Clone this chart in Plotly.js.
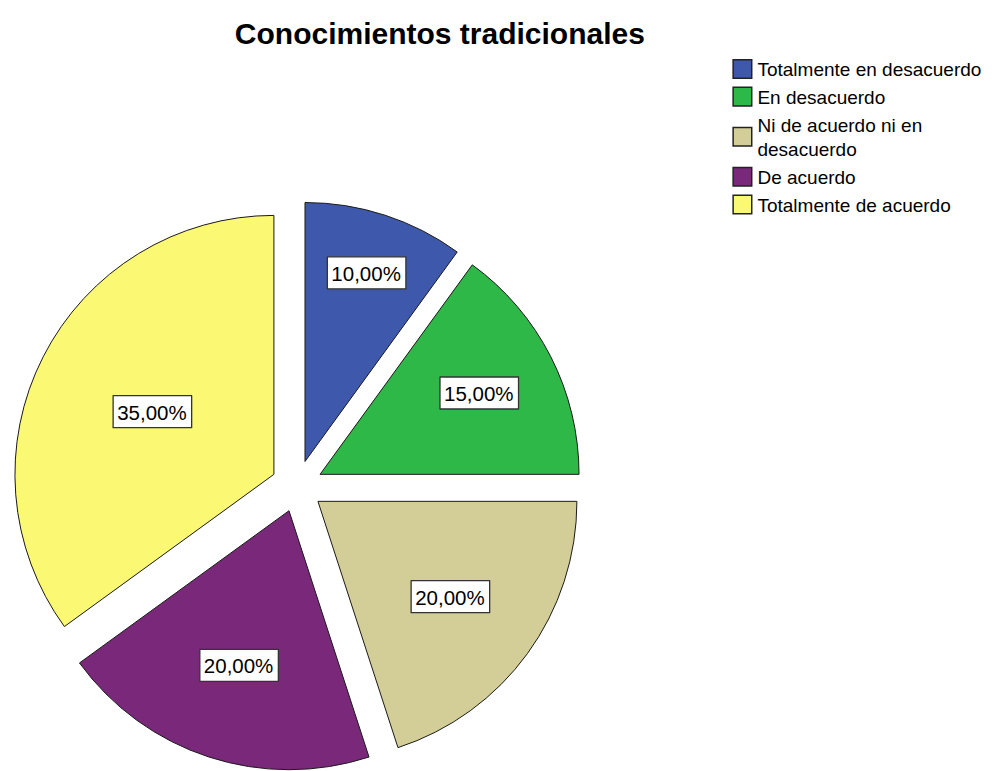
<!DOCTYPE html>
<html>
<head>
<meta charset="utf-8">
<script src="https://cdn.plot.ly/plotly-3.0.1.min.js"></script>
<style>
  html, body { margin: 0; padding: 0; background: #ffffff; overflow: hidden; }
  #chart { width: 1002px; height: 771px; }
</style>
</head>
<body>
<div id="chart"></div>
<script>
// Data
const chartTitle = "Conocimientos tradicionales";
const categories = [
  "Totalmente en desacuerdo",
  "En desacuerdo",
  "Ni de acuerdo ni en<br>desacuerdo",
  "De acuerdo",
  "Totalmente de acuerdo"
];
const percentages = [10, 15, 20, 20, 35];
const sliceColors = ["#3E58AC", "#2EB848", "#D3CE97", "#79287A", "#FBF873"];

const FONT = "Liberation Sans, Arial, sans-serif";

const data = [{
  type: "pie",
  labels: categories,
  values: percentages,
  sort: false,
  direction: "clockwise",
  rotation: 0,
  pull: 0.1,
  marker: { colors: sliceColors, line: { color: "#1a1a1a", width: 1 } },
  texttemplate: "%{percent:.2%}",
  textposition: "inside",
  insidetextorientation: "horizontal",
  textfont: { family: FONT, size: 20.5, color: "#000000" },
  hoverinfo: "none",
  domain: { x: [0.0121, 0.5807], y: [0, 0.739] }
}];

const layout = {
  width: 1002,
  height: 771,
  separators: ",.",
  margin: { l: 0, r: 0, t: 0, b: 0 },
  paper_bgcolor: "#ffffff",
  plot_bgcolor: "#ffffff",
  title: {
    text: "<b>" + chartTitle + "</b>",
    font: { family: FONT, size: 30, color: "#000000" },
    x: 0.439, xref: "paper", xanchor: "center",
    y: 0.957, yref: "container", yanchor: "middle"
  },
  showlegend: true,
  legend: {
    x: 0.716, xanchor: "left",
    y: 0.935, yanchor: "top",
    font: { family: FONT, size: 19, color: "#000000" },
    bgcolor: "rgba(0,0,0,0)",
    tracegroupgap: 0
  }
};

Plotly.newPlot("chart", data, layout, { displayModeBar: false, staticPlot: true }).then(function (gd) {
  const NS = "http://www.w3.org/2000/svg";
  // white boxes with dark border behind each percentage label
  gd.querySelectorAll("g.slicetext").forEach(function (g) {
    const t = g.querySelector("text");
    if (!t) return;
    const bb = t.getBBox();
    const rect = document.createElementNS(NS, "rect");
    rect.setAttribute("x", bb.x - 4);
    rect.setAttribute("y", bb.y - 5);
    rect.setAttribute("width", bb.width + 9);
    rect.setAttribute("height", bb.height + 9);
    rect.setAttribute("fill", "#ffffff");
    rect.setAttribute("stroke", "#333333");
    rect.setAttribute("stroke-width", "1.3");
    const tr = t.getAttribute("transform");
    if (tr) rect.setAttribute("transform", tr);
    g.insertBefore(rect, t);
  });
  // larger legend swatches, closer to the text
  gd.querySelectorAll("g.legendpoints path").forEach(function (p) {
    const tr = p.getAttribute("transform") || "";
    p.setAttribute("transform", tr + " translate(5,0) scale(1.55)");
    p.setAttribute("vector-effect", "non-scaling-stroke");
    p.style.strokeWidth = "1.5px";
    p.style.stroke = "#222222";
  });
});
</script>
</body>
</html>
